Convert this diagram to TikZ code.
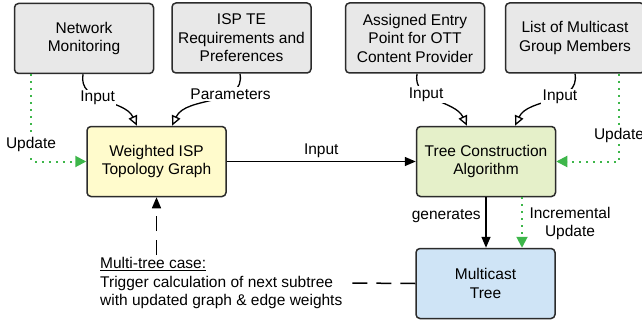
\documentclass[tikz,border=0pt]{standalone}
\usepackage{fontspec}
\setmainfont{Liberation Sans}
\usetikzlibrary{arrows.meta,positioning}

\definecolor{boxgray}{HTML}{E8E8E8}
\definecolor{boxyellow}{HTML}{FFFBCC}
\definecolor{boxgreen}{HTML}{E5F0C9}
\definecolor{boxblue}{HTML}{CFE4F6}
\definecolor{edgegray}{HTML}{2B2B2B}
\definecolor{updgreen}{HTML}{3DB64A}

\tikzset{
  block/.style={draw=edgegray, line width=1.5pt, rounded corners=4pt,
    minimum width=139pt, minimum height=70pt, align=center,
    font=\fontsize{15.5}{18.5}\selectfont, inner sep=2pt},
  lbl/.style={font=\fontsize{15.5}{18.5}\selectfont, fill=white, text=black, inner sep=1.5pt, align=center},
  plainlbl/.style={font=\fontsize{15.5}{18.5}\selectfont, text=black, inner sep=1.5pt, align=center},
  feed/.style={line width=1.3pt, -{Triangle[open, length=10pt, width=9pt, fill=white]}},
  flow/.style={line width=1.5pt, -{Triangle[length=11pt, width=9pt]}},
  upd/.style={updgreen, line width=2pt, dash pattern=on 1.8pt off 5.2pt,
    -{Triangle[length=11pt, width=11pt, color=updgreen]}},
  trig/.style={line width=1.5pt, dash pattern=on 15pt off 9pt},
}

\begin{document}
\begin{tikzpicture}[x=1pt, y=1pt]
  \useasboundingbox (0,0) rectangle (642,322);
  \begin{scope}
  \clip (0,0) rectangle (642,322);

  % sources
  \node[block, fill=boxgray] (nm)  at (84,283.5)  {Network\\Monitoring};
  \node[block, fill=boxgray] (isp) at (241.5,284) {ISP TE\\Requirements and\\Preferences};
  \node[block, fill=boxgray] (ent) at (415,284)   {Assigned Entry\\Point for OTT\\Content Provider};
  \node[block, fill=boxgray] (lst) at (575,284)   {List of Multicast\\Group Members};

  % processing
  \node[block, fill=boxyellow] (wg) at (156.5,160.5) {Weighted ISP\\Topology Graph};
  \node[block, fill=boxgreen]  (tc) at (486,160.5)   {Tree Construction\\Algorithm};
  \node[block, fill=boxblue]   (mt) at (485.5,38.5)  {Multicast\\Tree};

  % annotation
  \node[font=\fontsize{15.5}{18.5}\selectfont, align=left, anchor=west, inner sep=5pt]
    (note) at (95,39) {\underline{Multi-tree case:}\\Trigger calculation of next subtree\\with updated graph \& edge weights};

  % curved inputs
  \draw[feed] ([xshift=-1pt]nm.south) to[out=-100, in=115]
    node[lbl, pos=0.42] {Input} ([xshift=-19.5pt]wg.north);
  \draw[feed] ([xshift=-1.5pt]isp.south) to[out=-80, in=65]
    node[lbl, pos=0.3] {Parameters} ([xshift=15.5pt]wg.north);
  \draw[feed] ([xshift=2pt]ent.south) to[out=-100, in=115]
    node[lbl, pos=0.35] {Input} ([xshift=-19pt]tc.north);
  \draw[feed] ([xshift=0pt]lst.south) to[out=-80, in=65]
    node[lbl, pos=0.4] {Input} ([xshift=29pt]tc.north);

  % main flow
  \draw[flow] (wg.east) -- node[plainlbl, above=2pt] {Input} (tc.west);
  \draw[flow] (tc.south) -- node[plainlbl, left=3pt, pos=0.38] {generates} (tc.south |- mt.north);

  % update feeds
  \draw[upd] ([xshift=-53pt]nm.south) |- node[lbl, pos=0.4] {Update} (wg.west);
  \draw[upd] ([xshift=44pt]lst.south) |- node[lbl, pos=0.35] {Update} (tc.east);
  \draw[upd] ([xshift=36pt]tc.south) -- node[plainlbl, right=5pt, pos=0.52] {Incremental\\Update} ([xshift=36pt]tc.south |- mt.north);

  % multi-tree trigger
  \draw[trig] (mt.west) -- (note.east);
  \draw[trig, -{Triangle[length=11pt, width=9pt]}] ([yshift=-3pt]note.north -| wg.south) -- (wg.south);
  \end{scope}
\end{tikzpicture}
\end{document}
